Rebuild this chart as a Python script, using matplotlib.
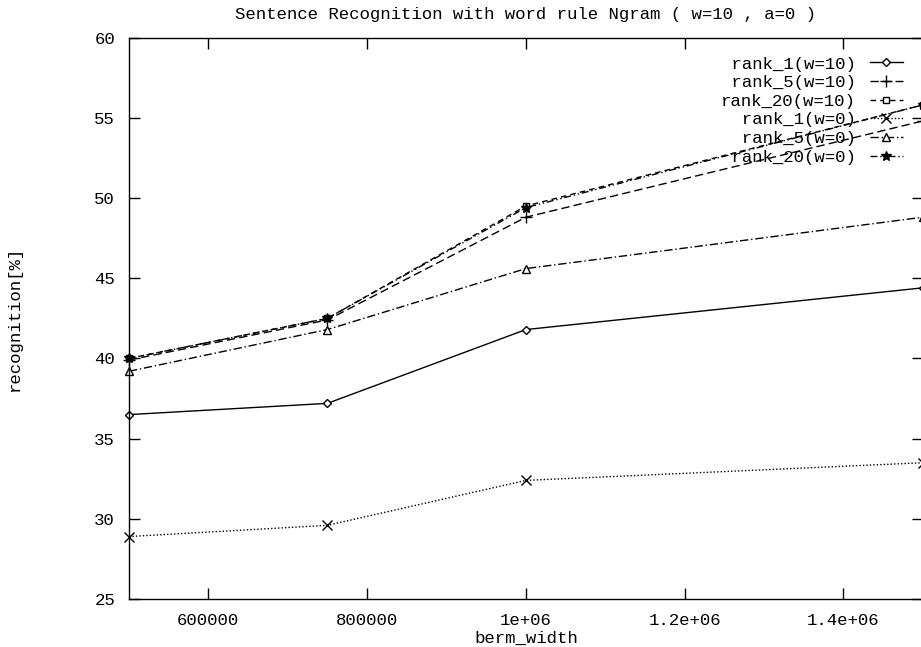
import numpy as np
import matplotlib.pyplot as plt

# berm width values and recognition rates
berm_width = [500000, 750000, 1000000, 1500000]
rank1_w10 = [36.5, 37.2, 41.8, 44.4]
rank5_w10 = [39.9, 42.4, 48.8, 54.8]
rank20_w10 = [40.0, 42.5, 49.5, 55.8]
rank1_w0 = [28.9, 29.6, 32.4, 33.5]
rank5_w0 = [39.2, 41.8, 45.6, 48.8]
rank20_w0 = [40.0, 42.5, 49.4, 55.8]

labels = ['rank_1(w=10)', 'rank_5(w=10)', 'rank_20(w=10)',
          'rank_1(w=0)', 'rank_5(w=0)', 'rank_20(w=0)']

xticks = [600000, 800000, 1000000, 1200000, 1400000]
xtick_labels = ['600000', '800000', '1e+06', '1.2e+06', '1.4e+06']
yticks = [25, 30, 35, 40, 45, 50, 55, 60]

plt.rcParams['font.family'] = ['Liberation Mono', 'DejaVu Sans Mono']

fig = plt.figure(figsize=(9.21, 6.47), dpi=100)
ax = fig.add_axes([0.140, 0.074, 0.862, 0.868])

series = [rank1_w10, rank5_w10, rank20_w10, rank1_w0, rank5_w0, rank20_w0]
markers = ['D', '+', 's', 'x', '^', '*']
styles = ['-', (0, (6, 3)), (0, (4, 3)), (0, (1, 1.5)), (0, (6, 2, 1, 2)), (0, (5, 2, 1, 2, 1, 2))]
msizes = [4.5, 8, 5, 7, 6, 7]

# pad labels so that the monospace legend text is right aligned
width = max(len(s) for s in labels)
for ys, lab, mk, ls, ms in zip(series, labels, markers, styles, msizes):
    ax.plot(berm_width, ys, color='black', linestyle=ls, linewidth=1.0,
            marker=mk, markersize=ms, markerfacecolor='white' if mk in 'Ds^' else 'black',
            markeredgewidth=1.0, label=lab.rjust(width), clip_on=False)

ax.set_xlim(500000, 1500000)
ax.set_ylim(25, 60)
ax.set_xticks(xticks)
ax.set_xticklabels(xtick_labels)
ax.set_yticks(yticks)
ax.tick_params(direction='in', length=8, width=1, labelsize=12.5,
               top=True, right=True, pad=10)
for sp in ax.spines.values():
    sp.set_linewidth(1.0)

ax.set_title('Sentence Recognition with word rule Ngram ( w=10 , a=0 )',
             fontsize=12.5, pad=13)
ax.set_xlabel('berm_width', fontsize=12.5, labelpad=2)
ax.set_ylabel('recognition[%]', fontsize=12.5, labelpad=52)

ax.legend(loc='upper right', bbox_to_anchor=(0.99, 0.988), frameon=False,
          markerfirst=False, fontsize=12.5, handlelength=1.9,
          handletextpad=0.8, labelspacing=0.2, borderpad=0.2)

fig.savefig('out.png', dpi=100)
